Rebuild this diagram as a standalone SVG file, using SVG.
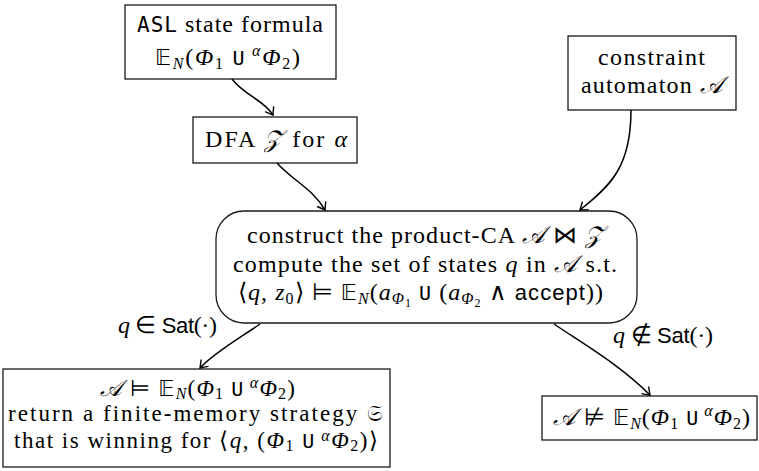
<svg xmlns="http://www.w3.org/2000/svg" width="759" height="471" viewBox="0 0 759 471">
<style>
.n rect{fill:#fff;stroke:#1a1a1a;stroke-width:1.3}
text{font-family:"Liberation Serif",serif;font-size:24px;fill:#000}
text.b{font-size:23px}
.i{font-style:italic}
.m{font-family:"DejaVu Sans Mono",monospace;font-size:20px}
.sf{font-family:"Liberation Sans",sans-serif;font-size:22px}
.s{font-size:16px}
.ss{font-size:12px}
.bb{font-family:"DejaVu Sans",sans-serif;font-size:22px}
.sc{font-family:"DejaVu Sans","Noto Sans",serif;font-style:italic}
.c path{fill:none;stroke:#000;stroke-width:1.5}
</style>
<defs>
<marker id="ar" viewBox="-9 -7 11 14" markerWidth="11" markerHeight="14" refX="0" refY="0" orient="auto" markerUnits="userSpaceOnUse">
<path d="M-7,-5 Q-1.5,-1 0,0 Q-1.5,1 -7,5" fill="none" stroke="#000" stroke-width="1.4"/>
</marker>
</defs>

<g id="asl" class="n">
<rect x="125" y="5" width="211" height="74"/>
<text x="137" y="32" textLength="186" lengthAdjust="spacing"><tspan class="m" style="font-size:21px">ASL</tspan> state formula</text>
<text x="155" y="65" textLength="145" lengthAdjust="spacing"><tspan class="bb">𝔼</tspan><tspan class="i s" dy="4">N</tspan><tspan dy="-4">(</tspan><tspan class="i">Φ</tspan><tspan class="s" dy="4">1</tspan><tspan dy="-4"> </tspan><tspan class="m">U</tspan><tspan class="i s" dy="-9"> α</tspan><tspan class="i" dy="9">Φ</tspan><tspan class="s" dy="4">2</tspan><tspan dy="-4">)</tspan></text>
</g>

<g id="dfa" class="n">
<rect x="193" y="117" width="164" height="46"/>
<text x="205" y="147" textLength="142" lengthAdjust="spacing">DFA <tspan class="sc">𝒵</tspan> for <tspan class="i">α</tspan></text>
</g>

<g id="ca" class="n">
<rect x="568" y="36" width="168" height="74"/>
<text x="598" y="65" textLength="107" lengthAdjust="spacing">constraint</text>
<text x="581" y="93" textLength="142" lengthAdjust="spacing">automaton <tspan class="sc">𝒜</tspan></text>
</g>

<g id="product" class="n">
<rect x="216" y="211" width="421" height="112" rx="28" ry="28"/>
<text x="247" y="243" textLength="356" lengthAdjust="spacing">construct the product-CA <tspan class="sc">𝒜</tspan> ⋈ <tspan class="sc">𝒵</tspan></text>
<text x="233" y="272" textLength="384" lengthAdjust="spacing">compute the set of states <tspan class="i">q</tspan> in <tspan class="sc">𝒜</tspan> s.t.</text>
<text x="238" y="300" textLength="365" lengthAdjust="spacing">⟨<tspan class="i">q</tspan>, <tspan class="i">z</tspan><tspan class="s" dy="4">0</tspan><tspan dy="-4">⟩ ⊨ </tspan><tspan class="bb">𝔼</tspan><tspan class="i s" dy="4">N</tspan><tspan dy="-4">(</tspan><tspan class="i">a</tspan><tspan class="i s" dy="4">Φ</tspan><tspan class="ss" dy="3">1</tspan><tspan dy="-7"> </tspan><tspan class="m">U</tspan> (<tspan class="i">a</tspan><tspan class="i s" dy="4">Φ</tspan><tspan class="ss" dy="3">2</tspan><tspan dy="-7"> ∧ </tspan><tspan class="sf">accept</tspan>))</text>
</g>

<g id="sat" class="n">
<rect x="3" y="369" width="387" height="98"/>
<text class="b" x="100" y="396" textLength="195" lengthAdjust="spacing"><tspan class="sc">𝒜</tspan> ⊨ <tspan class="bb">𝔼</tspan><tspan class="i s" dy="3">N</tspan><tspan dy="-3">(</tspan><tspan class="i">Φ</tspan><tspan class="s" dy="3">1</tspan><tspan dy="-3"> </tspan><tspan class="m">U</tspan><tspan class="i s" dy="-8"> α</tspan><tspan class="i" dy="8">Φ</tspan><tspan class="s" dy="3">2</tspan><tspan dy="-3">)</tspan></text>
<text class="b" x="8" y="421" textLength="374" lengthAdjust="spacing">return a finite-memory strategy <tspan class="bb">𝔖</tspan></text>
<text class="b" x="14" y="448" textLength="364" lengthAdjust="spacing">that is winning for ⟨<tspan class="i">q</tspan>, (<tspan class="i">Φ</tspan><tspan class="s" dy="3">1</tspan><tspan dy="-3"> </tspan><tspan class="m">U</tspan><tspan class="i s" dy="-7"> α</tspan><tspan class="i" dy="7">Φ</tspan><tspan class="s" dy="3">2</tspan><tspan dy="-3">)⟩</tspan></text>
</g>

<g id="unsat" class="n">
<rect x="542" y="396" width="215" height="44"/>
<text x="553" y="425" textLength="197" lengthAdjust="spacing"><tspan class="sc">𝒜</tspan> ⊭ <tspan class="bb">𝔼</tspan><tspan class="i s" dy="4">N</tspan><tspan dy="-4">(</tspan><tspan class="i">Φ</tspan><tspan class="s" dy="4">1</tspan><tspan dy="-4"> </tspan><tspan class="m">U</tspan><tspan class="i s" dy="-9"> α</tspan><tspan class="i" dy="9">Φ</tspan><tspan class="s" dy="4">2</tspan><tspan dy="-4">)</tspan></text>
</g>

<g id="connectors" class="c">
<path d="M232,79 C245,96 264,100 273,115" marker-end="url(#ar)"/>
<path d="M277,163 C292,180 312,188 325,210" marker-end="url(#ar)"/>
<path d="M631,110 C631,165 612,185 580,210" marker-end="url(#ar)"/>
<path d="M260,324 C240,338 215,352 200,368" marker-end="url(#ar)"/>
<path d="M554,324 C585,345 620,365 650,395" marker-end="url(#ar)"/>
<text x="118" y="333" textLength="99" lengthAdjust="spacing"><tspan class="i">q</tspan> ∈ <tspan class="sf">Sat</tspan>(·)</text>
<text x="613" y="343" textLength="100" lengthAdjust="spacing"><tspan class="i">q</tspan> ∉ <tspan class="sf">Sat</tspan>(·)</text>
</g>
</svg>
